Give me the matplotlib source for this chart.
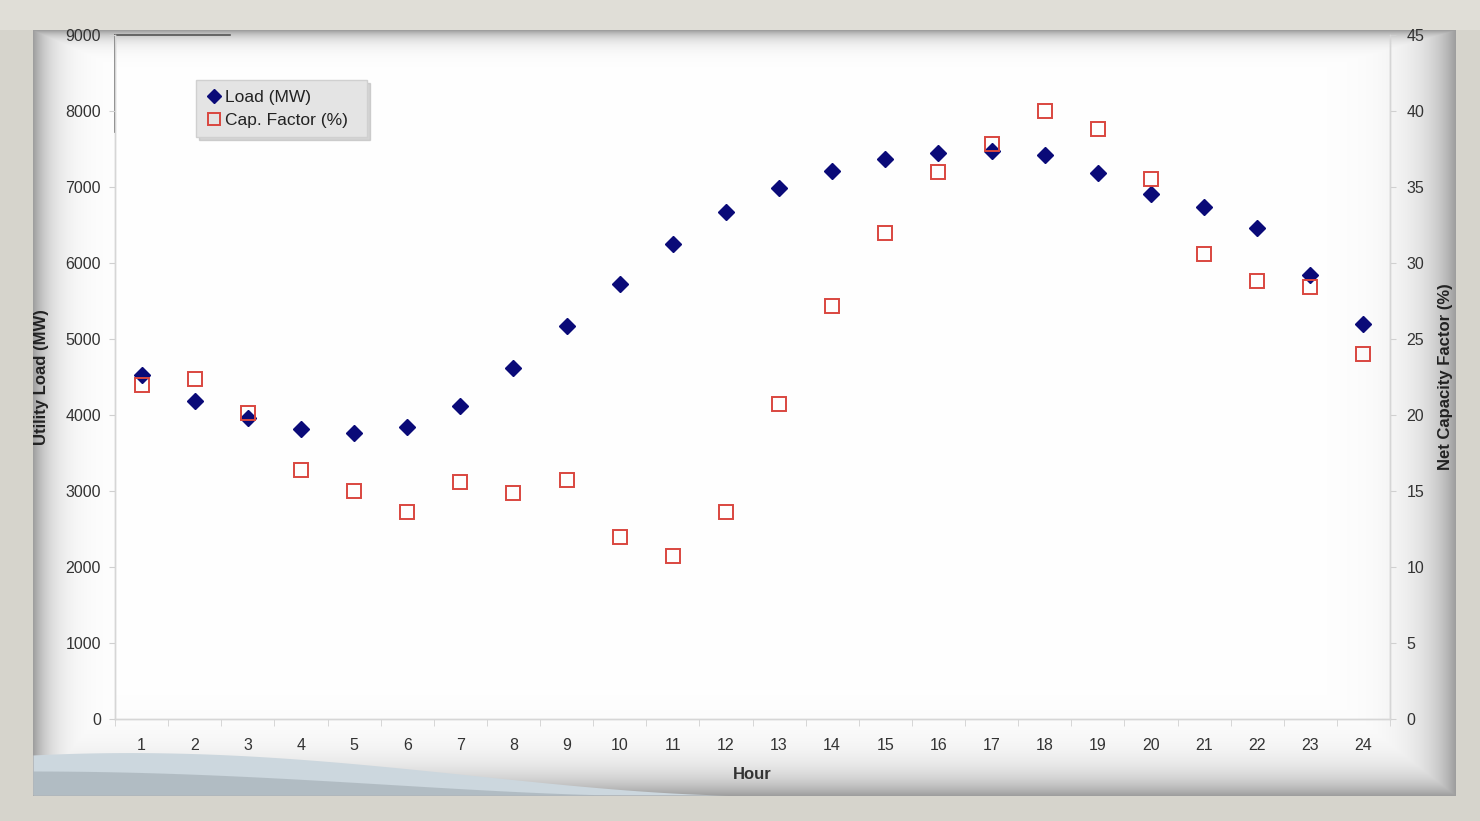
import numpy as np
import matplotlib
matplotlib.use("Agg")
import matplotlib.pyplot as plt
from matplotlib.lines import Line2D

plt.rcParams['font.family'] = ['Liberation Sans', 'DejaVu Sans']

# data
hours = list(range(1, 25))
load_mw = [4530, 4185, 3960, 3815, 3765, 3845, 4120, 4620, 5170, 5725,
           6250, 6670, 6985, 7210, 7370, 7445, 7475, 7420, 7185, 6910,
           6735, 6460, 5840, 5195]
cap_factor = [22.0, 22.4, 20.1, 16.4, 15.0, 13.6, 15.6, 14.9, 15.7, 12.0,
              10.7, 13.6, 20.7, 27.2, 32.0, 36.0, 37.8, 40.0, 38.8, 35.5,
              30.6, 28.8, 28.4, 24.0]
load_ticks = list(range(0, 9001, 1000))
cf_ticks = list(range(0, 46, 5))

W, H = 1480, 821
fig = plt.figure(figsize=(W / 100, H / 100), dpi=100)

# ---- background frame with a soft vignette panel ----
bg = fig.add_axes([0, 0, 1, 1], zorder=0)
bg.set_axis_off()
yy, xx = np.mgrid[0:H, 0:W].astype(float)
img = np.zeros((H, W, 3))
img[:] = np.array([214, 212, 204]) / 255.0
img[:30] = np.array([224, 222, 215]) / 255.0
px0, px1, py0, py1 = 33, 1455, 30, 795
inside = (xx >= px0) & (xx <= px1) & (yy >= py0) & (yy <= py1)
shade = np.maximum.reduce([
    np.exp(-(xx - px0) / 18.0),
    np.exp(-(px1 - xx) / 28.0),
    np.exp(-(py1 - yy) / 22.0),
    np.exp(-(yy - py0) / 8.0),
])
val = 1.0 - 0.38 * np.clip(shade, 0, 1)
for c in range(3):
    img[..., c] = np.where(inside, val, img[..., c])
bg.imshow(img, extent=[0, W, H, 0], aspect='auto', interpolation='bilinear')
bg.set_xlim(0, W)
bg.set_ylim(H, 0)

# wave decoration at bottom-left
wx = np.linspace(px0, 730, 300)
t = (wx - px0) / (730 - px0)
wtop = 795 - 46 * np.sin(np.pi * (0.35 + 0.65 * t)) ** 1.2 * (1 - t) ** 0.4
bg.fill_between(wx, wtop, 795, color='#ccd7de', lw=0)
wx2 = np.linspace(px0, 620, 300)
t2 = (wx2 - px0) / (620 - px0)
wtop2 = 795 - 24 * np.cos(np.pi / 2 * t2) ** 1.5
bg.fill_between(wx2, wtop2, 795, color='#a9b4bb', lw=0, alpha=0.75)

# ---- main chart ----
ax = fig.add_axes([115 / W, 1 - 719 / H, (1390 - 115) / W, (719 - 35) / H], zorder=2)
ax.patch.set_alpha(0)
ax2 = ax.twinx()
ax2.patch.set_alpha(0)

ax.plot(hours, load_mw, linestyle='none', marker='D', ms=8.5,
        color='#0a0a78', mec='#0a0a78', zorder=4)
ax2.plot(hours, cap_factor, linestyle='none', marker='s', ms=10,
         mfc='none', mec='#d9463f', mew=1.4, zorder=3)

ax.set_xlim(0.5, 24.5)
ax.set_ylim(0, 9000)
ax2.set_ylim(0, 45)
ax.set_yticks(load_ticks)
ax2.set_yticks(cf_ticks)
ax.set_xticks(hours)
ax.set_xticks(np.arange(0.5, 25, 1), minor=True)

for a in (ax, ax2):
    for s in a.spines.values():
        s.set_color('#d6d6d6')
        s.set_linewidth(1)
    a.spines['top'].set_visible(False)

ax.tick_params(axis='x', which='major', length=0, pad=14, labelsize=11.5, labelcolor='#333333')
ax.tick_params(axis='x', which='minor', length=5, color='#d0d0d0')
ax.tick_params(axis='y', length=4, color='#d0d0d0', pad=6, labelsize=11.5, labelcolor='#333333')
ax2.tick_params(axis='y', length=4, color='#d0d0d0', pad=8, labelsize=11.5, labelcolor='#333333')

ax.set_xlabel('Hour', fontsize=12, fontweight='bold', color='#333333', labelpad=10)
ax.set_ylabel('Utility Load (MW)', fontsize=12, fontweight='bold', color='#222222', labelpad=12)
ax2.set_ylabel('Net Capacity Factor (%)', fontsize=12, fontweight='bold', color='#222222', labelpad=10)

# dark corner line left over at the top of the left axis
fig.add_artist(Line2D([115 / W, 115 / W], [1 - 35 / H, 1 - 132 / H], color='#555555', lw=1.2))
fig.add_artist(Line2D([115 / W, 230 / W], [1 - 35 / H, 1 - 35 / H], color='#555555', lw=1.2))

handles = [
    Line2D([], [], linestyle='none', marker='D', ms=7, color='#0a0a78'),
    Line2D([], [], linestyle='none', marker='s', ms=9, mfc='none', mec='#d9463f', mew=1.4),
]
leg = ax.legend(handles, ['Load (MW)', 'Cap. Factor (%)  '], loc='upper left',
                bbox_to_anchor=(0.0635, 0.934), borderaxespad=0, frameon=True,
                fancybox=False, shadow={'color': '#b8b8b8', 'alpha': 0.6},
                handletextpad=0.1, handlelength=1.0,
                borderpad=0.55, labelspacing=0.45, fontsize=12.5)
leg.get_frame().set_facecolor('#e4e4e4')
leg.get_frame().set_edgecolor('#d0d0d0')
for t in leg.get_texts():
    t.set_color('#222222')

fig.savefig('out.png', dpi=100)
